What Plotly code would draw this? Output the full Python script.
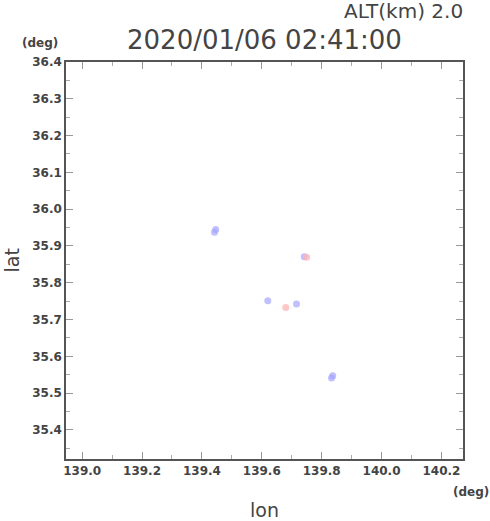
import plotly.graph_objects as go

# data
blue_lon = [139.442, 139.446, 139.742, 139.620, 139.716, 139.837, 139.833]
blue_lat = [35.937, 35.945, 35.871, 35.751, 35.742, 35.547, 35.541]
red_lon = [139.750, 139.680]
red_lat = [35.869, 35.733]

x_ticks = [139.0, 139.2, 139.4, 139.6, 139.8, 140.0, 140.2]
y_ticks = [35.4, 35.5, 35.6, 35.7, 35.8, 35.9, 36.0, 36.1, 36.2, 36.3, 36.4]
title_text = "2020/01/06 02:41:00"
alt_text = "ALT(km) 2.0"

fig = go.Figure()
fig.add_trace(go.Scatter(x=blue_lon, y=blue_lat, mode="markers",
                         marker=dict(size=7, color="rgba(165,165,255,0.7)",
                                     line=dict(width=0)),
                         showlegend=False, hoverinfo="skip"))
fig.add_trace(go.Scatter(x=red_lon, y=red_lat, mode="markers",
                         marker=dict(size=7, color="rgba(255,180,180,0.75)",
                                     line=dict(width=0)),
                         showlegend=False, hoverinfo="skip"))

axis_common = dict(
    showgrid=False, zeroline=False, showline=True, linecolor="#555555",
    linewidth=1.5, mirror="allticks", ticks="inside", ticklen=7,
    tickcolor="#999999", tickwidth=1,
    tickfont=dict(family="DejaVu Sans", size=12, color="#444444", weight="bold"),
)

fig.update_layout(
    width=490, height=521,
    margin=dict(l=66, r=27, t=62, b=62),
    paper_bgcolor="white", plot_bgcolor="white",
    xaxis=dict(range=[138.946, 140.272], tickvals=x_ticks,
               ticktext=[f"{v:.1f}" for v in x_ticks],
               minor=dict(dtick=0.1, tick0=139.0, ticks="inside", ticklen=4,
                          tickcolor="#aaaaaa"),
               **axis_common),
    yaxis=dict(range=[35.321, 36.4], tickvals=y_ticks,
               ticktext=[f"{v:.1f}" for v in y_ticks],
               minor=dict(dtick=0.05, tick0=35.4, ticks="inside", ticklen=4,
                          tickcolor="#aaaaaa"),
               **axis_common),
    annotations=[
        dict(text=title_text, xref="paper", yref="paper", x=0.5, y=1,
             xanchor="center", yanchor="bottom", yshift=5, showarrow=False,
             font=dict(family="DejaVu Sans", size=26, color="#444444")),
        dict(text=alt_text, xref="paper", yref="paper", x=1, y=1,
             xanchor="right", yanchor="bottom", xshift=2, yshift=37, showarrow=False,
             font=dict(family="DejaVu Sans", size=20, color="#444444")),
        dict(text="<b>(deg)</b>", xref="paper", yref="paper", x=0, y=1,
             xanchor="right", yanchor="bottom", xshift=-6, yshift=10, showarrow=False,
             font=dict(family="DejaVu Sans", size=12, color="#444444")),
        dict(text="<b>(deg)</b>", xref="paper", yref="paper", x=1, y=0,
             xanchor="left", yanchor="top", xshift=-12, yshift=-24, showarrow=False,
             font=dict(family="DejaVu Sans", size=12, color="#444444")),
        dict(text="lon", xref="paper", yref="paper", x=0.5, y=0,
             xanchor="center", yanchor="top", yshift=-38, showarrow=False,
             font=dict(family="DejaVu Sans", size=19, color="#444444")),
        dict(text="lat", xref="paper", yref="paper", x=0, y=0.5,
             xanchor="center", yanchor="middle", xshift=-55, showarrow=False,
             textangle=-90,
             font=dict(family="DejaVu Sans", size=19, color="#444444")),
    ],
)

fig.write_html("out.html",
               config={"displayModeBar": False},
               post_script="document.body.style.margin='0';")
